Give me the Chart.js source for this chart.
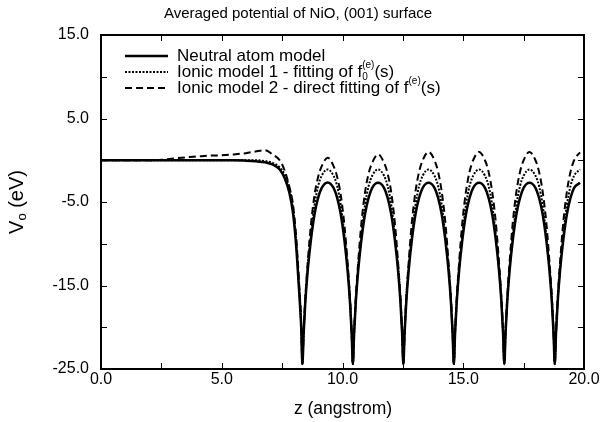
<!DOCTYPE html>
<html>
<head>
<meta charset="utf-8">
<script src="https://cdn.jsdelivr.net/npm/chart.js@4.4.1/dist/chart.umd.min.js"></script>
<style>
    html, body { margin: 0; padding: 0; background: #fff; }
    #contenedor { width: 603px; height: 422px; }
</style>
</head>
<body>
<div id="contenedor"><canvas id="graficaPotencial"></canvas></div>
<script>
// ==========================================
// DATOS
// ==========================================
const tituloGrafica = 'Averaged potential of NiO, (001) surface';
const tituloX = 'z (angstrom)';

// z en angstrom
const zAxis = [
    0, 1, 2, 2.5, 3, 3.5, 4, 4.5, 5, 5.5, 6, 6.4, 6.8, 7.1, 7.4, 7.6, 7.8, 7.95, 8.08, 8.2, 8.29,
    8.34, 8.39, 8.46, 8.56, 8.69, 8.84, 8.99, 9.14, 9.385, 9.63, 9.78, 9.93, 10.08, 10.21, 10.31, 10.38,
    10.43, 10.48, 10.55, 10.65, 10.78, 10.93, 11.08, 11.23, 11.475, 11.72, 11.87, 12.02, 12.17, 12.30, 12.40, 12.47,
    12.52, 12.57, 12.64, 12.74, 12.87, 13.02, 13.17, 13.32, 13.565, 13.81, 13.96, 14.11, 14.26, 14.39, 14.49, 14.56,
    14.61, 14.66, 14.73, 14.83, 14.96, 15.11, 15.26, 15.41, 15.655, 15.90, 16.05, 16.20, 16.35, 16.48, 16.58, 16.65,
    16.70, 16.75, 16.82, 16.92, 17.05, 17.20, 17.35, 17.50, 17.745, 17.99, 18.14, 18.29, 18.44, 18.57, 18.67, 18.74,
    18.79, 18.84, 18.91, 19.01, 19.14, 19.29, 19.44, 19.59, 19.835
];

// V0 (eV) - Neutral atom model
const vNeutral = [
    0, 0, 0, 0, 0, 0, 0, 0, 0, 0, -0.05, -0.12, -0.25, -0.5, -1.1, -2.1, -3.9, -6.3, -10.2, -15.5, -20.0,
    -24.4, -20.8, -17.0, -13.2, -9.6, -6.5, -4.5, -3.3, -2.65, -3.3, -4.5, -6.5, -9.6, -13.2, -17.0, -20.8,
    -24.4, -20.8, -17.0, -13.2, -9.6, -6.5, -4.5, -3.3, -2.7, -3.3, -4.5, -6.5, -9.6, -13.2, -17.0, -20.8,
    -24.4, -20.8, -17.0, -13.2, -9.6, -6.5, -4.5, -3.3, -2.7, -3.3, -4.5, -6.5, -9.6, -13.2, -17.0, -20.8,
    -24.4, -20.8, -17.0, -13.2, -9.6, -6.5, -4.5, -3.3, -2.7, -3.3, -4.5, -6.5, -9.6, -13.2, -17.0, -20.8,
    -24.4, -20.8, -17.0, -13.2, -9.6, -6.5, -4.5, -3.3, -2.7, -3.3, -4.5, -6.5, -9.6, -13.2, -17.0, -20.8,
    -24.4, -20.8, -17.0, -13.2, -9.6, -6.5, -4.5, -3.3, -2.7
];

// V0 (eV) - Ionic model 1
const vIonic1 = [
    0, 0, 0, 0, 0, 0, 0, 0, 0, 0, 0, 0, -0.1, -0.3, -0.85, -1.7, -3.3, -5.7, -9.7, -15.0, -19.8,
    -24.4, -20.7, -16.8, -12.8, -9.0, -5.4, -3.1, -1.85, -1.1, -1.85, -3.1, -5.4, -9.0, -12.8, -16.8, -20.7,
    -24.4, -20.7, -16.8, -12.8, -9.0, -5.4, -3.1, -1.85, -1.1, -1.85, -3.1, -5.4, -9.0, -12.8, -16.8, -20.7,
    -24.4, -20.7, -16.8, -12.8, -9.0, -5.4, -3.1, -1.85, -1.1, -1.85, -3.1, -5.4, -9.0, -12.8, -16.8, -20.7,
    -24.4, -20.7, -16.8, -12.8, -9.0, -5.4, -3.1, -1.85, -1.1, -1.85, -3.1, -5.4, -9.0, -12.8, -16.8, -20.7,
    -24.4, -20.7, -16.8, -12.8, -9.0, -5.4, -3.1, -1.85, -1.1, -1.85, -3.1, -5.4, -9.0, -12.8, -16.8, -20.7,
    -24.4, -20.7, -16.8, -12.8, -9.0, -5.4, -3.1, -1.85, -1.1
];

// V0 (eV) - Ionic model 2
const vIonic2 = [
    0, 0, 0, 0.05, 0.2, 0.35, 0.45, 0.55, 0.6, 0.7, 0.85, 1.05, 1.2, 0.7, 0.0, -1.2, -3.2, -5.3, -9.1, -14.6, -19.6,
    -24.4, -20.6, -16.5, -12.2, -7.8, -4.2, -2.0, -0.7, 0.3, -0.7, -2.0, -4.2, -7.8, -12.2, -16.5, -20.6,
    -24.4, -20.6, -16.5, -12.2, -7.6, -3.9, -1.6, -0.3, 0.7, -0.3, -1.6, -3.9, -7.6, -12.2, -16.5, -20.6,
    -24.4, -20.6, -16.5, -12.2, -7.5, -3.8, -1.4, 0.0, 1.0, 0.0, -1.4, -3.8, -7.5, -12.2, -16.5, -20.6,
    -24.4, -20.6, -16.5, -12.2, -7.5, -3.8, -1.4, 0.0, 1.0, 0.0, -1.4, -3.8, -7.5, -12.2, -16.5, -20.6,
    -24.4, -20.6, -16.5, -12.2, -7.5, -3.8, -1.4, 0.0, 1.0, 0.0, -1.4, -3.8, -7.5, -12.2, -16.5, -20.6,
    -24.4, -20.6, -16.5, -12.2, -7.5, -3.8, -1.4, 0.0, 0.95
];

// Marcas de los ejes
const xTickValues = [0, 2.5, 5, 7.5, 10, 12.5, 15, 17.5, 20];
const xTickLabels = ['0.0', '', '5.0', '', '10.0', '', '15.0', '', '20.0'];
const yTickValues = [-25, -20, -15, -10, -5, 0, 5, 10, 15];
const yTickLabels = ['-25.0', '', '-15.0', '', '-5.0', '', '5.0', '', '15.0'];

const FUENTE = '"Liberation Sans", Arial, Helvetica, sans-serif';

// ==========================================
// PLUGIN: marco, marcas internas, títulos y leyenda
// ==========================================
function textoRico(ctx, x, y, partes) {
    // partes: [{t, size, dy, hold}] - texto con sub/superíndices
    let cx = x;
    let ancho = 0;
    partes.forEach(p => {
        ctx.font = p.size + 'px ' + FUENTE;
        const w = ctx.measureText(p.t).width;
        if (p.draw !== false) ctx.fillText(p.t, cx, y + (p.dy || 0));
        if (p.hold) {
            ancho = Math.max(ancho, w);
        } else {
            cx += Math.max(w, ancho);
            ancho = 0;
        }
    });
    return cx - x;
}

const marcoPlugin = {
    id: 'marco',
    afterDraw(chart) {
        const ctx = chart.ctx;
        const a = chart.chartArea;
        const sx = chart.scales.x;
        const sy = chart.scales.y;
        ctx.save();

        // Marco
        ctx.strokeStyle = '#000';
        ctx.lineWidth = 2;
        ctx.strokeRect(a.left, a.top, a.right - a.left, a.bottom - a.top);

        // Marcas hacia dentro en los cuatro lados
        ctx.lineWidth = 1;
        ctx.beginPath();
        xTickValues.forEach(v => {
            const px = Math.round(sx.getPixelForValue(v)) + 0.5;
            ctx.moveTo(px, a.bottom); ctx.lineTo(px, a.bottom - 6);
            ctx.moveTo(px, a.top); ctx.lineTo(px, a.top + 6);
        });
        yTickValues.forEach(v => {
            const py = Math.round(sy.getPixelForValue(v)) + 0.5;
            ctx.moveTo(a.left, py); ctx.lineTo(a.left + 6, py);
            ctx.moveTo(a.right, py); ctx.lineTo(a.right - 6, py);
        });
        ctx.stroke();

        ctx.fillStyle = '#000';

        // Título principal
        ctx.font = '15px ' + FUENTE;
        ctx.textAlign = 'center';
        ctx.textBaseline = 'middle';
        ctx.fillText(tituloGrafica, 298, 14);

        // Título eje X
        ctx.font = '17.5px ' + FUENTE;
        ctx.fillText(tituloX, 343, 409);

        // Título eje Y: V0 (eV) girado
        ctx.save();
        ctx.translate(17, (a.top + a.bottom) / 2);
        ctx.rotate(-Math.PI / 2);
        ctx.textAlign = 'left';
        const partesY = [
            { t: 'V', size: 20 },
            { t: 'o', size: 13, dy: 5 },
            { t: ' (eV)', size: 20 }
        ];
        const anchoY = textoRico(ctx, 0, 0, partesY.map(p => Object.assign({}, p, { draw: false })));
        textoRico(ctx, -anchoY / 2, 0, partesY);
        ctx.restore();

        // Leyenda
        ctx.textAlign = 'left';
        ctx.textBaseline = 'middle';
        const filas = [56, 72, 88];
        chart.data.datasets.forEach((ds, i) => {
            const y = filas[i];
            ctx.save();
            ctx.lineWidth = ds.borderWidth;
            ctx.setLineDash(ds.borderDash || []);
            ctx.beginPath();
            ctx.moveTo(125, y);
            ctx.lineTo(168, y);
            ctx.stroke();
            ctx.restore();
        });
        textoRico(ctx, 177, filas[0], [{ t: 'Neutral atom model', size: 17 }]);
        textoRico(ctx, 177, filas[1], [
            { t: 'Ionic model 1 - fitting of f', size: 17 },
            { t: '0', size: 10, dy: 5, hold: true },
            { t: '(e)', size: 10, dy: -7 },
            { t: '(s)', size: 17 }
        ]);
        textoRico(ctx, 177, filas[2], [
            { t: 'Ionic model 2 - direct fitting of f', size: 17 },
            { t: '(e)', size: 10, dy: -7 },
            { t: '(s)', size: 17 }
        ]);

        ctx.restore();
    }
};

// ==========================================
// GRÁFICA
// ==========================================
function serie(valores) {
    return zAxis.map((z, i) => ({ x: z, y: valores[i] }));
}

const ctx = document.getElementById('graficaPotencial').getContext('2d');

new Chart(ctx, {
    type: 'line',
    data: {
        datasets: [
            {
                label: 'Neutral atom model',
                data: serie(vNeutral),
                borderColor: '#000',
                borderWidth: 2.5,
                pointRadius: 0,
                cubicInterpolationMode: 'monotone'
            },
            {
                label: 'Ionic model 1 - fitting of f0(e)(s)',
                data: serie(vIonic1),
                borderColor: '#000',
                borderWidth: 2,
                borderDash: [2, 1.5],
                pointRadius: 0,
                cubicInterpolationMode: 'monotone'
            },
            {
                label: 'Ionic model 2 - direct fitting of f(e)(s)',
                data: serie(vIonic2),
                borderColor: '#000',
                borderWidth: 2,
                borderDash: [7, 4],
                pointRadius: 0,
                cubicInterpolationMode: 'monotone'
            }
        ]
    },
    options: {
        responsive: true,
        maintainAspectRatio: false,
        animation: false,
        devicePixelRatio: 1,
        layout: { padding: { top: 35, right: 19, bottom: 0, left: 0 } },
        plugins: {
            legend: { display: false },
            title: { display: false },
            tooltip: { enabled: false }
        },
        scales: {
            x: {
                type: 'linear',
                min: 0,
                max: 20,
                grid: { display: false, drawTicks: false },
                border: { display: false },
                afterBuildTicks: s => { s.ticks = xTickValues.map(v => ({ value: v })); },
                afterFit: s => { s.height = 53; },
                ticks: {
                    autoSkip: false,
                    maxRotation: 0,
                    padding: 1,
                    color: '#000',
                    font: { family: FUENTE, size: 16 },
                    callback: (v, i) => xTickLabels[i]
                }
            },
            y: {
                type: 'linear',
                min: -25,
                max: 15,
                grid: { display: false, drawTicks: false },
                border: { display: false },
                afterBuildTicks: s => { s.ticks = yTickValues.map(v => ({ value: v })); },
                afterFit: s => { s.width = 101; },
                ticks: {
                    autoSkip: false,
                    padding: 12,
                    color: '#000',
                    font: { family: FUENTE, size: 16 },
                    callback: (v, i) => yTickLabels[i]
                }
            }
        }
    },
    plugins: [marcoPlugin]
});
</script>
</body>
</html>
